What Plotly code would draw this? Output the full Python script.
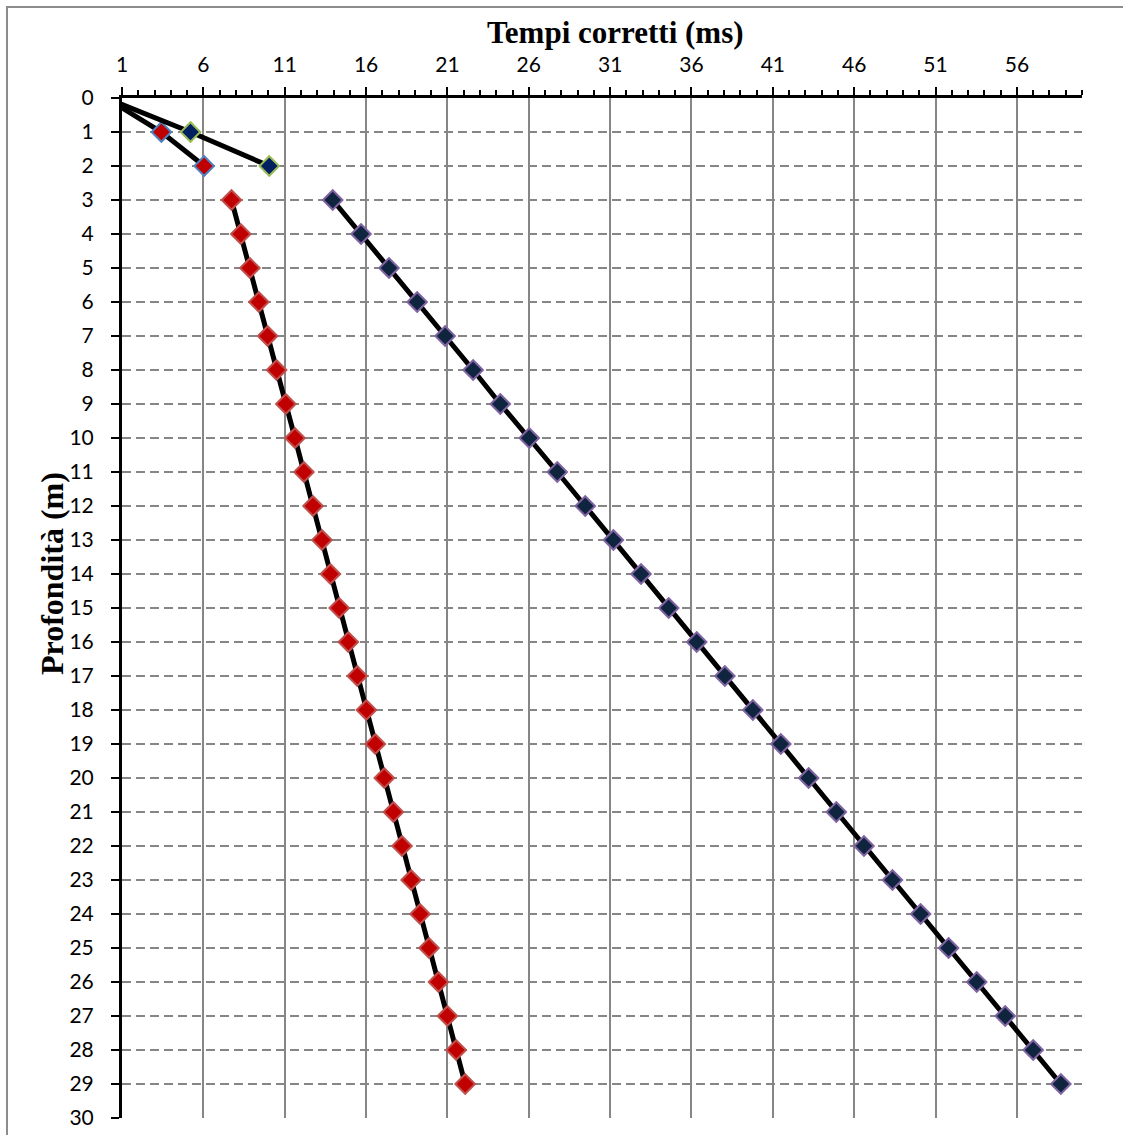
import plotly.graph_objects as go

# ---- data ----
depth_a = [0, 1, 2]
time_a = [0, 3.42, 6.05]

depth_b = [0, 1, 2]
time_b = [0, 5.21, 10.05]

depth_c = list(range(3, 30))
time_c = [7.73, 8.30, 8.86, 9.41, 9.95, 10.50, 11.07, 11.63, 12.18, 12.74,
          13.29, 13.81, 14.35, 14.91, 15.46, 16.02, 16.57, 17.12, 17.68, 18.21,
          18.77, 19.32, 19.87, 20.45, 21.00, 21.54, 22.09]

depth_d = list(range(3, 30))
time_d = [13.95, 15.69, 17.41, 19.14, 20.86, 22.58, 24.25, 26.03, 27.75, 29.47,
          31.20, 32.90, 34.60, 36.32, 38.05, 39.77, 41.49, 43.20, 44.90, 46.60,
          48.35, 50.08, 51.80, 53.53, 55.28, 57.00, 58.70]

x_title = "Tempi corretti (ms)"
y_title = "Profondità (m)"

W, H = 1123, 1135
L, R, T, B = 122, 41, 98, 17

fig = go.Figure()

def add(x, y, fill, outline):
    fig.add_trace(go.Scatter(
        x=x, y=y, mode="lines+markers",
        line=dict(color="black", width=5),
        marker=dict(symbol="diamond", size=15, color=fill,
                    line=dict(color=outline, width=2)),
        showlegend=False, cliponaxis=True))

add(time_a, depth_a, "#C00000", "#4F81BD")
add(time_b, depth_b, "#002060", "#9BBB59")
add(time_c, depth_c, "#C00000", "#C0504D")
add(time_d, depth_d, "#0F243E", "#8064A2")

tickfont = dict(family="Lato, Open Sans, sans-serif", size=21, color="black")

fig.update_xaxes(
    side="top", range=[1, 60], tick0=1, dtick=5, automargin=False,
    showgrid=True, gridcolor="#868686", gridwidth=2, griddash="solid",
    showline=True, linecolor="black", linewidth=3,
    ticks="outside", ticklen=8, tickwidth=2, tickcolor="black",
    minor=dict(dtick=1, tick0=1, ticks="outside", ticklen=5, tickwidth=2,
               tickcolor="black", showgrid=False),
    tickfont=tickfont, zeroline=False, ticklabelstandoff=7,
)
fig.update_yaxes(
    range=[30, 0], tick0=0, dtick=1, automargin=False,
    showgrid=True, gridcolor="#868686", gridwidth=2, griddash="9px,5px",
    showline=True, linecolor="black", linewidth=3,
    ticks="outside", ticklen=8, tickwidth=2, tickcolor="black",
    tickfont=tickfont, zeroline=False, ticklabelstandoff=13,
)

pw, ph = W - L - R, H - T - B
def px(xp):
    return (xp - L) / pw
def py(yp):
    return (H - B - yp) / ph

fig.add_shape(type="rect", xref="paper", yref="paper",
              x0=px(7), x1=px(1140), y0=py(1150), y1=py(7),
              line=dict(color="#8C8C8C", width=2), layer="below")

titlefont = dict(family="Liberation Serif, Times New Roman, serif",
                 size=31, color="black")
fig.add_annotation(text="<b>" + x_title + "</b>", xref="paper", yref="paper",
                   x=px(615), y=py(32), xanchor="center", yanchor="middle",
                   showarrow=False, font=titlefont)
fig.add_annotation(text="<b>" + y_title + "</b>", xref="paper", yref="paper",
                   x=px(52), y=py(574), xanchor="center", yanchor="middle",
                   showarrow=False, textangle=-90,
                   font=dict(titlefont, size=32))

fig.update_layout(
    width=W, height=H, autosize=False,
    margin=dict(l=L, r=R, t=T, b=B),
    paper_bgcolor="white", plot_bgcolor="white",
)

fig.write_html("out.html", config={"displayModeBar": False},
               post_script="document.body.style.margin='0px';document.body.style.overflow='hidden';")
